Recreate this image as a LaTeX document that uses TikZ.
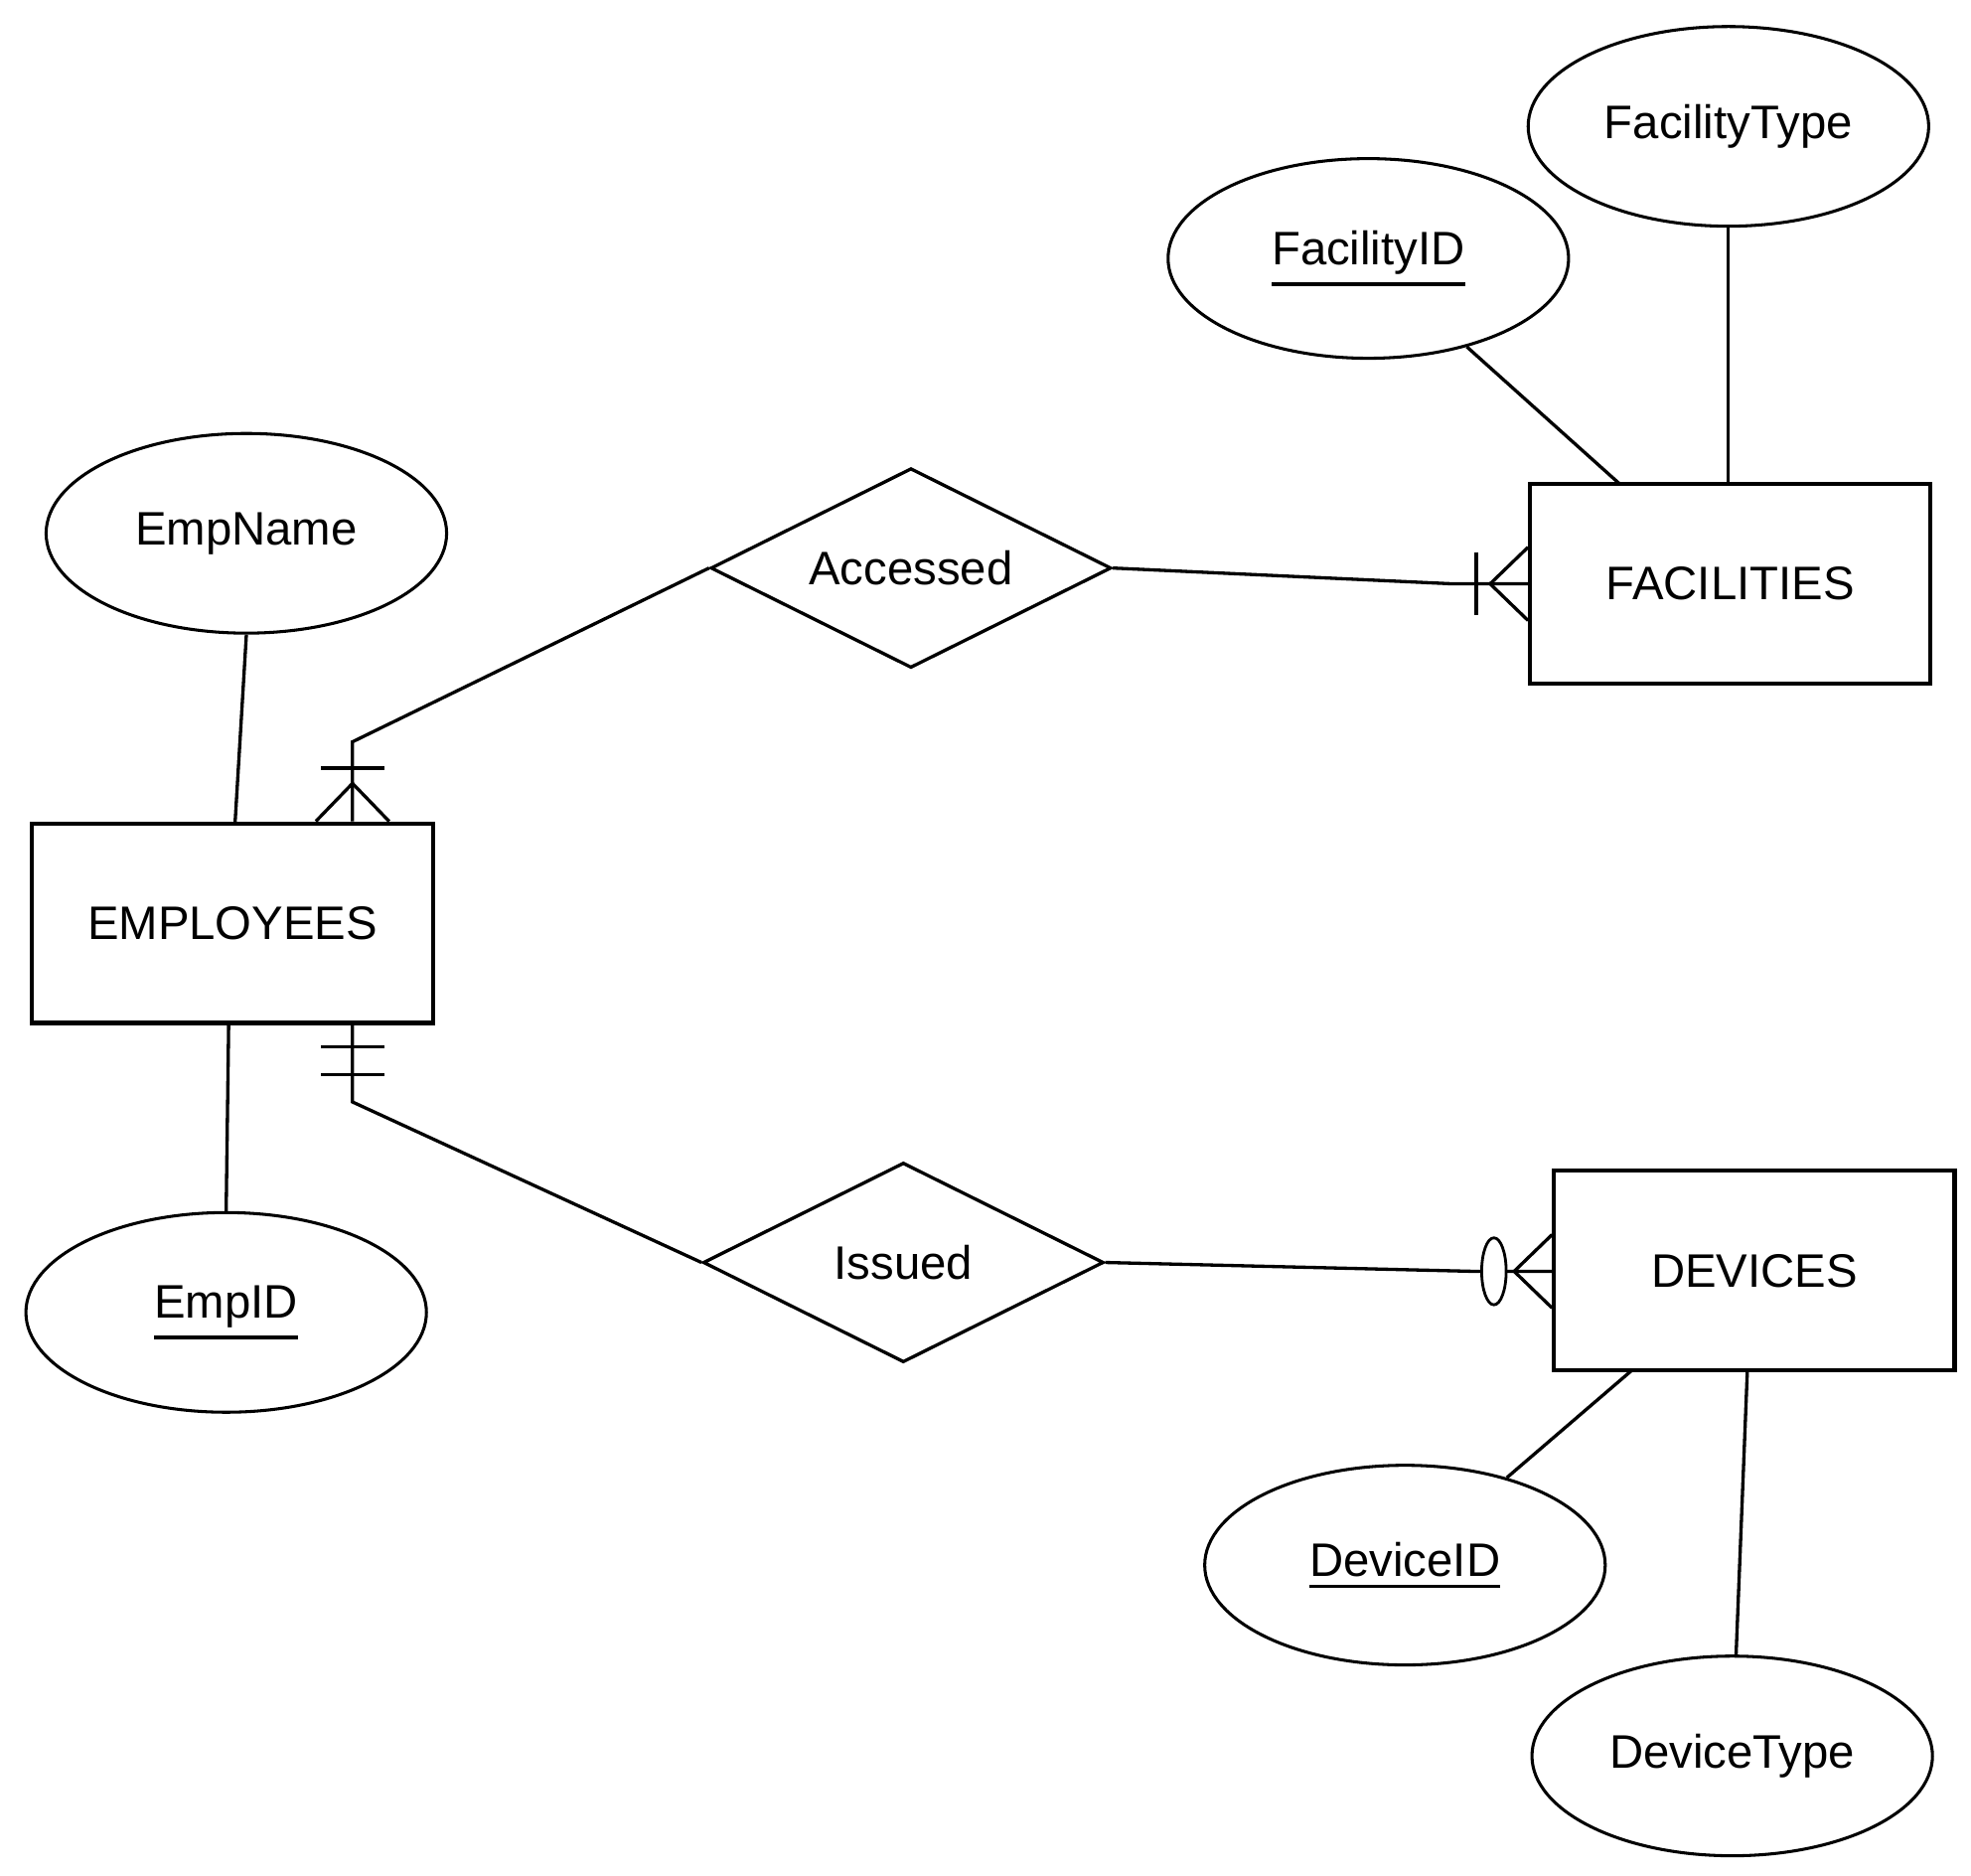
\documentclass[tikz,border=0pt]{standalone}
\usepackage{fontspec}
\setmainfont{Liberation Sans}
\usetikzlibrary{shapes.geometric,calc}
\newcommand{\keyul}[1]{\leavevmode\vtop{\hbox{#1}\kern3.2pt\hrule height 1.4pt}}
\begin{document}
\begin{tikzpicture}[x=0.5pt,y=-0.5pt,
 every node/.style={font=\fontsize{18.6}{22}\selectfont},
 entity/.style={draw,line width=1.6pt,rectangle,minimum width=158.5pt,minimum height=79pt,inner sep=0},
 attr/.style={draw,line width=1.2pt,ellipse,minimum width=158.5pt,minimum height=79pt,inner sep=0},
 rel/.style={draw,line width=1.3pt,diamond,minimum width=158.5pt,minimum height=79pt,inner sep=0},
 conn/.style={line width=1.3pt,line join=miter},
 optc/.style={draw,ellipse,fill=white,line width=1.1pt,minimum width=9.7pt,minimum height=26.5pt,inner sep=0}]
\useasboundingbox (0,0) rectangle (1560,1484.5);
% entities
\node[entity] (fac) at (1369.5,462) {FACILITIES};
\node[entity] (emp) at (184,730.5) {EMPLOYEES};
\node[entity] (dev) at (1388.5,1005.5) {DEVICES};
% attributes
\node[attr] (ftype) at (1368,100) {FacilityType};
\node[attr] (fid) at (1083,204.5) {\keyul{FacilityID}};
\node[attr] (ename) at (195,422) {EmpName};
\node[attr] (eid) at (179,1038.5) {\keyul{EmpID}};
\node[attr] (did) at (1112,1238.5) {\keyul{DeviceID}};
\node[attr] (dtype) at (1371,1389.5) {DeviceType};
% relationships
\node[rel,label={center:Accessed}] (acc) at (721,449.5) {};
\node[rel,label={center:Issued}] (iss) at (715,999) {};
% attribute links
\coordinate (fidT) at (1282,383);
\draw[conn] (fid) -- (fidT);
\draw[conn] (ftype.south) -- (ftype.south |- fac.north);
\draw[conn] (ename.south) -- (186,652);
\draw[conn] (181,809) -- (eid.north);
\coordinate (didB) at (1292,1084);
\draw[conn] (did) -- (didB);
\draw[conn] (1383,1084) -- (1374,1311);
% Accessed - EMPLOYEES
\coordinate (aE) at (279,587);
\coordinate (aEb) at (aE |- emp.north);
\draw[conn] (acc.west) -- (aE) -- (aEb);
\draw[conn] ($(aEb)+(-29,0)$) -- ($(aEb)+(0,-30)$) -- ($(aEb)+(29,0)$);
\draw[conn] ($(aEb)+(-25,-42)$) -- ($(aEb)+(25,-42)$);
% Accessed - FACILITIES
\coordinate (aF) at (1150,462);
\coordinate (aFb) at (aF -| fac.west);
\draw[conn] (acc.east) -- (aF) -- (aFb);
\draw[conn] ($(aFb)+(0,-29)$) -- ($(aFb)+(-30,0)$) -- ($(aFb)+(0,29)$);
\draw[conn] ($(aFb)+(-41,-25)$) -- ($(aFb)+(-41,25)$);
% Issued - EMPLOYEES
\coordinate (iE) at (279,872);
\coordinate (iEb) at (iE |- emp.south);
\draw[conn] (iss.west) -- (iE) -- (iEb);
\draw[conn] ($(iEb)+(-25,17)$) -- ($(iEb)+(25,17)$);
\draw[conn] ($(iEb)+(-25,39)$) -- ($(iEb)+(25,39)$);
% Issued - DEVICES
\coordinate (iD) at (1165,1006);
\coordinate (iDb) at (iD -| dev.west);
\draw[conn] (iss.east) -- (iD) -- (iDb);
\draw[conn] ($(iDb)+(0,-29)$) -- ($(iDb)+(-30,0)$) -- ($(iDb)+(0,29)$);
\node[optc] (oc) at ($(iDb)+(-46,0)$) {};
\end{tikzpicture}
\end{document}
